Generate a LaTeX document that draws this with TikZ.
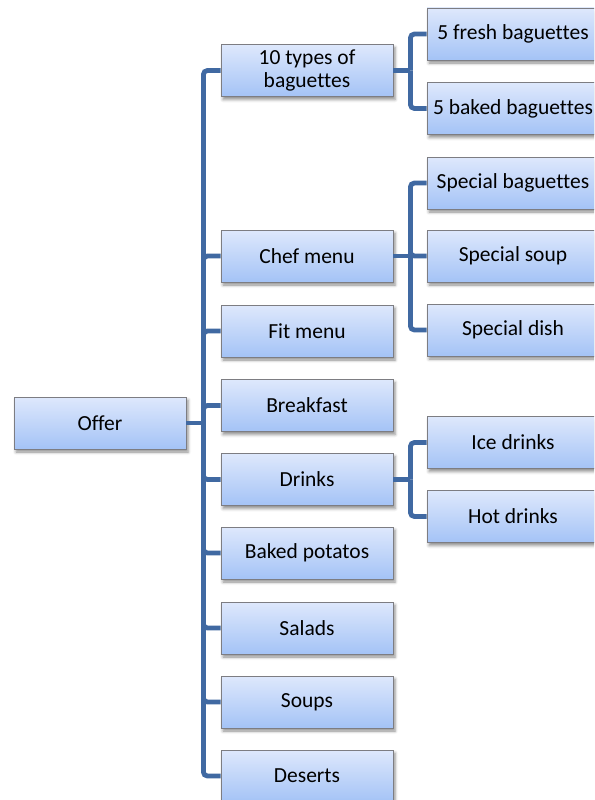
\documentclass[tikz,border=0pt]{standalone}
\usepackage{fontspec}
\setmainfont{Carlito}[Ligatures=NoCommon]
\usetikzlibrary{shadows.blur}
\definecolor{boxtop}{RGB}{222,232,252}
\definecolor{boxbot}{RGB}{164,195,246}
\definecolor{boxline}{RGB}{125,125,130}
\definecolor{linkblue}{RGB}{64,105,162}
\tikzset{
  item/.style={draw=boxline, line width=0.8pt, top color=boxtop, bottom color=boxbot,
    minimum width=172pt, minimum height=52pt, inner sep=0pt, align=center,
    font=\fontsize{21.5}{23}\selectfont,
    blur shadow={shadow xshift=2pt, shadow yshift=-3pt, shadow blur radius=3pt, shadow opacity=45}},
  link/.style={draw=linkblue, line width=4.8pt, rounded corners=4pt}
}
\begin{document}
\begin{tikzpicture}[x=1pt, y=-1pt]
\useasboundingbox (0,0) rectangle (594,800);
\clip (0,0) rectangle (594,800);
% root
\node[item] (offer) at (100,423) {Offer};
% second level
\node[item] (bag) at (307,70.5) {10 types of\\baguettes};
\node[item] (chef) at (307,256) {Chef menu};
\node[item] (fit) at (307,331) {Fit menu};
\node[item] (brk) at (307,405.5) {Breakfast};
\node[item] (drk) at (307,479.5) {Drinks};
\node[item] (pot) at (307,553) {Baked potatos};
\node[item] (sal) at (307,628) {Salads};
\node[item] (sou) at (307,702) {Soups};
\node[item] (des) at (307,776) {Deserts};
% third level
\node[item] (fresh) at (513,34) {5 fresh baguettes};
\node[item] (baked) at (513,108.5) {5 baked baguettes};
\node[item] (sbag) at (513,183) {Special baguettes};
\node[item] (ssoup) at (513,256) {Special soup};
\node[item] (sdish) at (513,330) {Special dish};
\node[item] (ice) at (513,442.5) {Ice drinks};
\node[item] (hot) at (513,516.5) {Hot drinks};
% connectors: a stub to a junction point, then every child runs back to it
\draw[link] (offer.east) -- ++(17,0) coordinate (j0);
\foreach \c in {bag,chef,fit,brk,drk,pot,sal,sou,des}
  \draw[link] (\c.west) -| (j0);
\draw[link] (bag.east) -- ++(17,0) coordinate (j1);
\foreach \c in {fresh,baked}
  \draw[link] (\c.west) -| (j1);
\draw[link] (chef.east) -- ++(17,0) coordinate (j2);
\foreach \c in {sbag,ssoup,sdish}
  \draw[link] (\c.west) -| (j2);
\draw[link] (drk.east) -- ++(17,0) coordinate (j3);
\foreach \c in {ice,hot}
  \draw[link] (\c.west) -| (j3);
\end{tikzpicture}
\end{document}
